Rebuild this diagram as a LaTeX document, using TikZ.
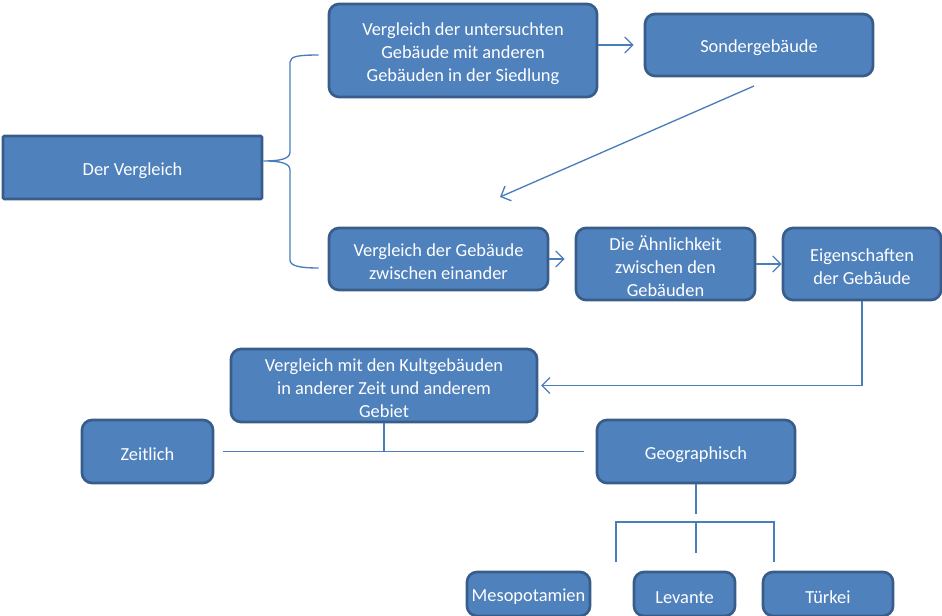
\documentclass[tikz,border=0pt]{standalone}
\usepackage{fontspec}
\setmainfont{Carlito}
\usetikzlibrary{arrows.meta}
\definecolor{boxfill}{HTML}{4F81BD}
\definecolor{boxline}{HTML}{385D8A}
\definecolor{conn}{HTML}{4A7EBB}
\begin{document}
\begin{tikzpicture}[x=0.75pt,y=-0.75pt,
  box/.style={draw=boxline, fill=boxfill, line width=2pt, rounded corners=7.5pt,
    text=white, align=center, inner sep=2pt,
    font=\fontsize{13.8pt}{17.25pt}\selectfont},
  sqbox/.style={box, rounded corners=1pt},
  conline/.style={draw=conn, line width=1pt},
  arr/.style={conline, -{Straight Barb[length=6pt,width=12pt]}}]
\useasboundingbox (0,0) rectangle (942,616);
\def\tstr{\rule{0pt}{14pt}}
% nodes
\node[sqbox, minimum width=194.25pt, minimum height=47.25pt] (dv) at (132.5,167.5) {\tstr Der Vergleich};
\node[box, minimum width=201pt, minimum height=69.75pt] (a) at (463,50.5) {\tstr Vergleich der untersuchten\\Gebäude mit anderen\\Gebäuden in der Siedlung};
\node[box, minimum width=171pt, minimum height=46.5pt] (sg) at (759,45) {\tstr Sondergebäude};
\node[box, minimum width=164.25pt, minimum height=46.5pt] (b) at (438.5,259) {\tstr Vergleich der Gebäude\\zwischen einander};
\node[box, minimum width=134.25pt, minimum height=54pt] (ah) at (665.5,264) {\tstr Die Ähnlichkeit\\zwischen den\\Gebäuden};
\node[box, minimum width=118.5pt, minimum height=54pt] (eg) at (862,264) {\tstr Eigenschaften\\der Gebäude};
\node[box, minimum width=229.5pt, minimum height=54.75pt] (kult) at (384,385.5) {\tstr Vergleich mit den Kultgebäuden\\in anderer Zeit und anderem\\Gebiet};
\node[box, minimum width=98.25pt, minimum height=47.25pt] (zt) at (147.5,451.5) {\tstr Zeitlich};
\node[box, minimum width=148.5pt, minimum height=47.25pt] (geo) at (696,451.5) {\tstr Geographisch};
\node[box, minimum width=92.25pt, minimum height=33pt] (meso) at (528.5,594) {\tstr Mesopotamien};
\node[box, minimum width=75.75pt, minimum height=33pt] (lev) at (684.5,594) {\tstr Levante};
\node[box, minimum width=97.5pt, minimum height=33pt] (tur) at (828,594) {\tstr Türkei};
% brace
\coordinate (bt) at ([xshift=-6.75pt,yshift=-3.4pt]a.west);
\coordinate (bb) at ([xshift=-6.75pt,yshift=-6.75pt]b.west);
\coordinate (bm) at ([yshift=4.9pt]dv.east);
\draw[conline] (bt) .. controls (300,55) and (290,56) .. (290,62) -- (290,152)
  .. controls (290,159) and (280,161) .. (bm)
  .. controls (280,161) and (290,163) .. (290,170) -- (290,260)
  .. controls (290,266) and (300,268) .. (bb);
% arrows
\draw[arr] (a.east |- sg.west) -- ([xshift=-7.5pt]sg.west);
\coordinate (s1) at (754,86);
\coordinate (s2) at (500,197);
\draw[arr] (s1) -- (s2);
\draw[arr] (b.east) -- ([xshift=-7.5pt]b.east -| ah.west);
\draw[arr] (ah.east) -- (eg.west |- ah.east);
\draw[arr] (eg.south) -- (eg.south |- kult.east) -- ([xshift=2pt]kult.east);
% kult tree
\coordinate (kj) at (kult.south |- zt.east);
\draw[conline] (kult.south) -- (kj);
\draw[conline] ([xshift=6.75pt]zt.east) -- ([xshift=-9pt]geo.west);
% geo tree
\coordinate (g1) at ([yshift=-22.5pt]geo.south);
\draw[conline] (geo.south) -- (g1);
\coordinate (hl) at (616,522);
\coordinate (hr) at (774,522);
\coordinate (hm) at (geo.south |- hl);
\draw[conline] (616,562) -- (hl) -- (hr) -- (774,562);
\draw[conline] (hm) -- ([yshift=-23pt]hm);
\end{tikzpicture}
\end{document}
